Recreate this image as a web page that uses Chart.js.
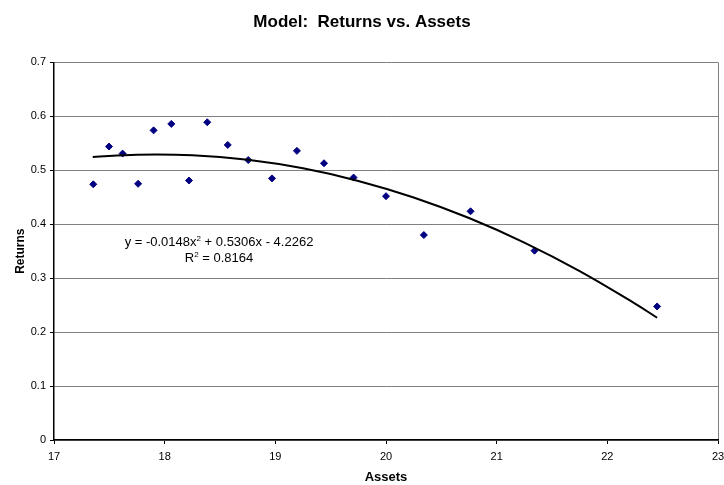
<!DOCTYPE html>
<html>
<head>
<meta charset="utf-8">
<script src="https://cdn.jsdelivr.net/npm/chart.js@4"></script>
<style>
  html, body { margin: 0; padding: 0; background: #fff; }
  #wrap { width: 724px; height: 485px; }
</style>
</head>
<body>
<div id="wrap"><canvas id="myChart"></canvas></div>
<script>
const context = document.querySelector('#myChart')

// observed points (Assets, Returns)
const assets  = [17.355, 17.497, 17.62, 17.76, 17.90, 18.06, 18.22, 18.385, 18.57, 18.755,
                 18.97, 19.195, 19.44, 19.707, 20.0, 20.342, 20.764, 21.342, 22.45]
const returns = [0.474, 0.544, 0.531, 0.475, 0.574, 0.586, 0.481, 0.589, 0.547, 0.519,
                 0.485, 0.536, 0.513, 0.4865, 0.452, 0.380, 0.424, 0.351, 0.2476]

// polynomial trendline as drawn in the chart
const trendX = [17.35, 17.75, 18.25, 18.75, 19.25, 19.75, 20.25, 20.75, 21.25, 21.75, 22.25, 22.45]
const trendY = [0.5246, 0.5290, 0.5279, 0.5194, 0.5036, 0.4803, 0.4496, 0.4115, 0.3660, 0.3131, 0.2528, 0.2266]

const yTicks = ['0', '0.1', '0.2', '0.3', '0.4', '0.5', '0.6', '0.7']
const xTicks = ['17', '18', '19', '20', '21', '22', '23']
const eqLine = ['y = -0.0148x', '2', ' + 0.5306x - 4.2262']
const r2Line = ['R', '2', ' = 0.8164']

const FONT = 'Arial, "Liberation Sans", Helvetica, sans-serif'
Chart.defaults.font.family = FONT
Chart.defaults.color = '#000'

// draws the trendline equation with superscripts
const equationLabel = {
  id: 'equationLabel',
  afterDatasetsDraw(chart) {
    const ctx = chart.ctx
    const cx = 219
    const parts = [[eqLine, 246], [r2Line, 262]]
    ctx.save()
    ctx.fillStyle = '#000'
    ctx.textBaseline = 'alphabetic'
    ctx.textAlign = 'left'
    parts.forEach(([p, base]) => {
      ctx.font = '13px ' + FONT
      const w0 = ctx.measureText(p[0]).width
      const w2 = ctx.measureText(p[2]).width
      ctx.font = '8px ' + FONT
      const w1 = ctx.measureText(p[1]).width
      let x = cx - (w0 + w1 + w2) / 2
      ctx.font = '13px ' + FONT
      ctx.fillText(p[0], x, base)
      x += w0
      ctx.font = '8px ' + FONT
      ctx.fillText(p[1], x, base - 5)
      x += w1
      ctx.font = '13px ' + FONT
      ctx.fillText(p[2], x, base)
    })
    ctx.restore()
  }
}

const data = {
  datasets: [
    {
      label: 'Returns',
      data: assets.map((a, i) => ({ x: a, y: returns[i] })),
      backgroundColor: '#000080',
      borderColor: '#000080',
      pointStyle: 'rectRot',
      pointRadius: 3.5,
      pointHoverRadius: 3.5,
      showLine: false,
      order: 1
    },
    {
      label: 'Poly. (Returns)',
      data: trendX.map((a, i) => ({ x: a, y: trendY[i] })),
      borderColor: '#000',
      borderWidth: 2,
      pointRadius: 0,
      showLine: true,
      tension: 0.4,
      fill: false,
      order: 0
    }
  ]
}

const config = {
  type: 'scatter',
  data: data,
  options: {
    responsive: true,
    maintainAspectRatio: false,
    animation: false,
    layout: { padding: 0 },
    plugins: {
      legend: { display: false },
      tooltip: { enabled: false },
      title: {
        display: true,
        text: 'Model:  Returns vs. Assets',
        font: { size: 17, weight: 'bold' },
        color: '#000',
        padding: { top: 12, bottom: 30 }
      }
    },
    scales: {
      x: {
        type: 'linear',
        min: 17,
        max: 23,
        afterFit(scale) {
          scale.height = 45
          scale.paddingRight = 6
        },
        ticks: {
          stepSize: 1,
          font: { size: 11 },
          color: '#000',
          padding: 6,
          maxRotation: 0,
          callback: (v) => xTicks[v - 17]
        },
        grid: {
          color: (c) => c.index === xTicks.length - 1 ? '#808080' : 'rgba(0,0,0,0)',
          tickColor: '#000',
          tickLength: 4,
          lineWidth: 1
        },
        border: { color: '#000', width: 1.5 },
        title: {
          display: true,
          text: 'Assets',
          font: { size: 13, weight: 'bold' },
          color: '#000',
          padding: { top: 0, bottom: 0 }
        }
      },
      y: {
        min: 0,
        max: 0.7,
        afterFit(scale) { scale.width = 54 },
        ticks: {
          stepSize: 0.1,
          font: { size: 11 },
          color: '#000',
          padding: 4,
          callback: (v) => yTicks[Math.round(v * 10)]
        },
        grid: {
          color: '#808080',
          tickColor: '#000',
          tickLength: 4,
          lineWidth: 1
        },
        border: { color: '#000', width: 1.5 },
        title: {
          display: true,
          text: 'Returns',
          font: { size: 12, weight: 'bold' },
          color: '#000',
          padding: { top: 13, bottom: 0 }
        }
      }
    }
  },
  plugins: [equationLabel]
}

new Chart(context, config)
</script>
</body>
</html>
